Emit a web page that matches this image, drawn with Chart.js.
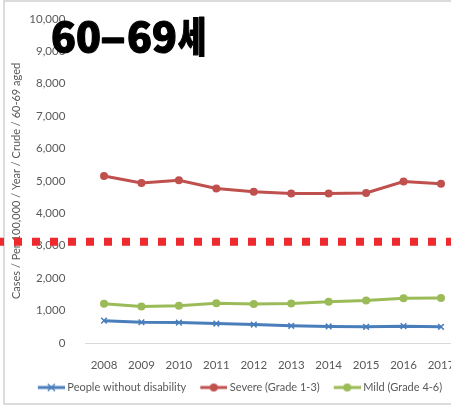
<!DOCTYPE html>
<html>
<head>
<meta charset="utf-8">
<script src="https://cdn.jsdelivr.net/npm/chart.js@4"></script>
<style>
  html, body { margin: 0; padding: 0; background: #fff; overflow: hidden; }
  #frame {
    position: absolute; left: 3px; top: 0; width: 600px; height: 405px;
    border: 2px solid #dcdcdc; border-right: none; box-sizing: border-box;
  }
  #wrap { position: absolute; left: 0; top: 0; width: 480px; height: 407px; }
</style>
</head>
<body>
<div id="frame"></div>
<div id="wrap"><canvas id="myChart" width="480" height="407"></canvas></div>
<script>
const years = ['2008', '2009', '2010', '2011', '2012', '2013', '2014', '2015', '2016', '2017']
const withoutDisability = [690, 640, 630, 600, 570, 530, 510, 500, 520, 500]
const severe = [5150, 4940, 5020, 4770, 4670, 4610, 4610, 4630, 4980, 4910]
const mild = [1210, 1130, 1150, 1230, 1200, 1220, 1270, 1310, 1380, 1390]
const yTicks = { min: 0, max: 10000, step: 1000 }
const cutoff = 3125

const blue = '#4a7ebb'
const red = '#c0504d'
const green = '#9bbb59'
const textGray = '#595959'
const font = "Lato, 'Open Sans', sans-serif"

// legend symbol: short line with the series marker, sitting a bit right of
// the legend box so it ends just before the label text
function legendSample(color, marker) {
  const c = document.createElement('canvas')
  c.width = 34
  c.height = 10
  const g = c.getContext('2d')
  const x0 = 7
  const x1 = 34
  const mid = (x0 + x1) / 2
  g.strokeStyle = color
  g.lineWidth = 3
  g.beginPath()
  g.moveTo(x0, 5)
  g.lineTo(x1, 5)
  g.stroke()
  if (marker === 'circle') {
    g.fillStyle = color
    g.beginPath()
    g.arc(mid, 5, 4, 0, Math.PI * 2)
    g.fill()
  } else {
    g.lineWidth = 1.5
    g.beginPath()
    g.moveTo(mid - 3.5, 1.5)
    g.lineTo(mid + 3.5, 8.5)
    g.moveTo(mid + 3.5, 1.5)
    g.lineTo(mid - 3.5, 8.5)
    g.stroke()
  }
  return c
}

const samples = [
  legendSample(blue, 'cross'),
  legendSample(red, 'circle'),
  legendSample(green, 'circle'),
]

// draw one piece of the heading, squeezed or stretched sideways
function headingPart(ctx, text, x, y, sx) {
  ctx.save()
  ctx.translate(x, y)
  ctx.scale(sx, 1)
  ctx.fillText(text, 0, 0)
  ctx.strokeText(text, 0, 0)
  ctx.restore()
}

const overlay = {
  id: 'overlay',
  afterDraw(chart) {
    const { ctx, scales } = chart
    const y = scales.y.getPixelForValue(cutoff)
    ctx.save()
    ctx.strokeStyle = '#ed2a2e'
    ctx.lineWidth = 8
    ctx.setLineDash([8, 10])
    ctx.beginPath()
    ctx.moveTo(-4, y)
    ctx.lineTo(chart.width, y)
    ctx.stroke()
    ctx.restore()

    // big age-group heading, drawn over the top ticks
    ctx.save()
    ctx.font = "900 41px 'Noto Sans CJK KR', 'Liberation Sans', sans-serif"
    ctx.fillStyle = '#000'
    ctx.strokeStyle = '#000'
    ctx.lineWidth = 1.2
    ctx.lineJoin = 'round'
    ctx.textBaseline = 'alphabetic'
    ctx.textAlign = 'left'
    headingPart(ctx, '60', 51, 52, 1)
    ctx.textAlign = 'center'
    headingPart(ctx, '-', 113, 52, 1.75)
    ctx.textAlign = 'left'
    headingPart(ctx, '69', 127, 52, 1)
    headingPart(ctx, '세', 128 + ctx.measureText('69').width, 52, 0.75)
    ctx.restore()
  },
}

const data = {
  labels: years,
  datasets: [
    {
      label: 'People without disability',
      data: withoutDisability,
      borderColor: blue,
      backgroundColor: blue,
      borderWidth: 3,
      pointStyle: 'crossRot',
      pointRadius: 4,
      pointBorderWidth: 1.5,
    },
    {
      label: 'Severe (Grade 1-3)',
      data: severe,
      borderColor: red,
      backgroundColor: red,
      borderWidth: 3,
      pointStyle: 'circle',
      pointRadius: 4,
      pointBorderWidth: 0,
    },
    {
      label: 'Mild (Grade 4-6)',
      data: mild,
      borderColor: green,
      backgroundColor: green,
      borderWidth: 3,
      pointStyle: 'circle',
      pointRadius: 4,
      pointBorderWidth: 0,
    },
  ],
}

const config = {
  type: 'line',
  data: data,
  options: {
    responsive: false,
    animation: false,
    layout: { padding: { left: 4, right: 8, top: 15, bottom: 4 } },
    scales: {
      x: {
        offset: true,
        grid: { display: false },
        border: { color: '#d9d9d9', width: 1 },
        ticks: { color: textGray, font: { family: font, size: 11.5 }, padding: 7, maxRotation: 0 },
        afterFit(scale) {
          scale.height = 29
        },
      },
      y: {
        min: yTicks.min,
        max: yTicks.max,
        grid: { display: false },
        border: { display: false },
        ticks: { stepSize: yTicks.step, color: textGray, font: { family: font, size: 11.5 }, padding: 12 },
        title: {
          display: true,
          text: 'Cases / Per 100,000 / Year / Crude / 60-69 aged',
          color: textGray,
          font: { family: font, size: 11 },
          padding: { top: 6, bottom: 0 },
        },
        afterFit(scale) {
          scale.width = 81.3
        },
      },
      spacer: {
        position: 'right',
        display: true,
        grid: { display: false },
        border: { display: false },
        ticks: { display: false },
        afterFit(scale) {
          scale.width = 12.3
        },
      },
    },
    plugins: {
      tooltip: { enabled: false },
      legend: {
        position: 'bottom',
        labels: {
          usePointStyle: true,
          pointStyleWidth: 28,
          padding: 10,
          color: textGray,
          font: { family: font, size: 11 },
          generateLabels(chart) {
            const items = Chart.defaults.plugins.legend.labels.generateLabels(chart)
            items.forEach((item, i) => {
              item.pointStyle = samples[i]
            })
            return items
          },
        },
      },
    },
  },
  plugins: [overlay],
}

const canvas = document.getElementById('myChart')
const myChart = new Chart(canvas, config)
</script>
</body>
</html>
